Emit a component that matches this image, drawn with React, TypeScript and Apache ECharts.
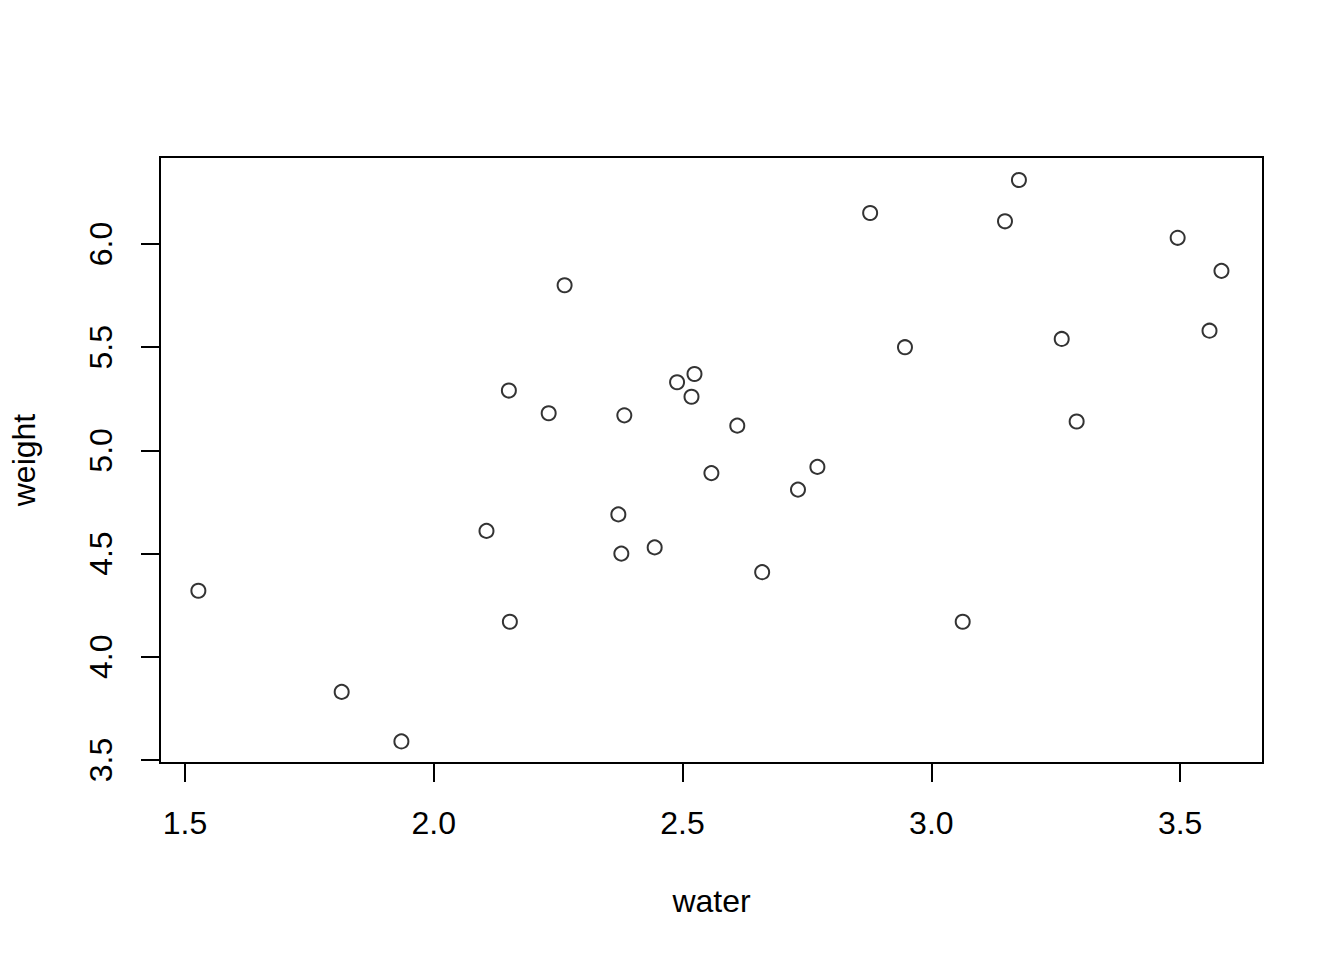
import React, { useEffect, useRef } from "react";
import * as echarts from "echarts";

const water: number[] = [
  1.527, 1.815, 1.935, 2.106, 2.151, 2.153, 2.231, 2.263, 2.371, 2.377,
  2.383, 2.444, 2.489, 2.518, 2.524, 2.558, 2.61, 2.66, 2.732, 2.771,
  2.877, 2.947, 3.063, 3.148, 3.176, 3.262, 3.292, 3.495, 3.559, 3.583,
];
const weight: number[] = [
  4.32, 3.83, 3.59, 4.61, 5.29, 4.17, 5.18, 5.8, 4.69, 4.5,
  5.17, 4.53, 5.33, 5.26, 5.37, 4.89, 5.12, 4.41, 4.81, 4.92,
  6.15, 5.5, 4.17, 6.11, 6.31, 5.54, 5.14, 6.03, 5.58, 5.87,
];
const xTicks: number[] = [1.5, 2.0, 2.5, 3.0, 3.5];
const yTicks: number[] = [3.5, 4.0, 4.5, 5.0, 5.5, 6.0];

const FONT = "'Liberation Sans', Arial, Helvetica, sans-serif";

export default function App() {
  const ref = useRef<HTMLDivElement>(null);
  useEffect(() => {
    if (!ref.current) return;
    const chart = echarts.init(ref.current, undefined, { renderer: "svg" });
    chart.setOption({
      animation: false,
      backgroundColor: "#ffffff",
      textStyle: { fontFamily: FONT },
      grid: {
        left: 157,
        top: 157,
        width: 1106,
        height: 606,
        show: true,
        borderColor: "#000",
        borderWidth: 2,
        backgroundColor: "transparent",
      },
      xAxis: {
        type: "value",
        min: 1.4499,
        max: 3.6665,
        name: "water",
        nameLocation: "middle",
        nameGap: 122,
        nameTextStyle: { fontSize: 32, color: "#000", fontFamily: FONT, lineHeight: 32 },
        splitLine: { show: false },
        axisLine: { show: false },
        axisTick: {
          show: true,
          inside: false,
          length: 19,
          customValues: xTicks,
          lineStyle: { color: "#000", width: 2 },
        },
        axisLabel: {
          customValues: xTicks,
          fontSize: 32,
          lineHeight: 32,
          color: "#000",
          fontFamily: FONT,
          margin: 44,
          formatter: (v: number) => v.toFixed(1),
        },
      },
      yAxis: {
        type: "value",
        min: 3.4855,
        max: 6.4215,
        name: "weight",
        nameLocation: "middle",
        nameGap: 120,
        nameRotate: 90,
        nameTextStyle: { fontSize: 32, color: "#000", fontFamily: FONT, lineHeight: 32 },
        splitLine: { show: false },
        axisLine: { show: false },
        axisTick: {
          show: true,
          inside: false,
          length: 19,
          customValues: yTicks,
          lineStyle: { color: "#000", width: 2 },
        },
        axisLabel: {
          customValues: yTicks,
          fontSize: 32,
          lineHeight: 32,
          color: "#000",
          fontFamily: FONT,
          margin: 43,
          rotate: 90,
          formatter: (v: number) => v.toFixed(1),
        },
      },
      series: [
        {
          type: "scatter",
          data: water.map((w, i) => [w, weight[i]]),
          symbol: "circle",
          symbolSize: 14,
          itemStyle: { color: "rgba(0,0,0,0)", borderColor: "#000", borderWidth: 2 },
          emphasis: { disabled: true },
        },
      ],
    });
    return () => chart.dispose();
  }, []);
  return (
    <div
      ref={ref}
      style={{ position: "fixed", left: 0, top: 0, width: 1344, height: 960, background: "#fff" }}
    />
  );
}
